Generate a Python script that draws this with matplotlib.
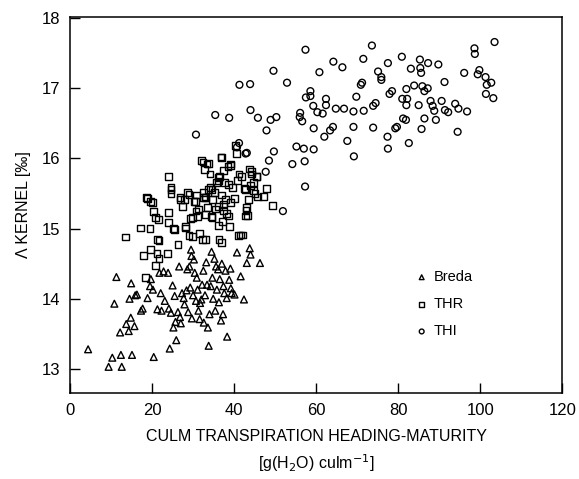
import matplotlib
matplotlib.use("Agg")
import matplotlib.pyplot as plt

plt.rcParams['font.family'] = ['Liberation Sans', 'DejaVu Sans']

# Breda (triangles)
breda_x = [4.4, 9.4, 10.3, 12.4, 12.6, 15.1, 20.4, 10.8, 11.3, 12.2, 13.7, 14.3, 14.8, 14.9,
           14.5, 15.7, 15.9, 16.3, 17.3, 17.7, 18.9, 19.5, 19.7, 20.2, 21.3, 21.8, 22.1, 22.3,
           22.8, 23.1, 23.9, 24.1, 24.3, 24.6, 25.0, 25.2, 25.5, 25.7, 25.9, 26.3, 26.6, 26.8,
           27.0, 27.3, 27.7, 27.9, 28.4, 28.6, 28.8, 29.1, 29.3, 29.5, 29.6, 29.7, 30.0, 30.2,
           30.4, 30.7, 30.9, 31.1, 31.3, 31.6, 31.7, 32.0, 32.2, 32.5, 32.6, 32.9, 33.2, 33.4,
           33.6, 33.8, 34.0, 34.3, 34.5, 34.7, 34.9, 35.2, 35.4, 35.6, 35.8, 36.1, 36.3, 36.5,
           36.8, 37.0, 37.3, 37.4, 37.6, 37.9, 38.2, 38.3, 38.8, 39.1, 39.2, 39.4, 40.1, 40.7,
           41.6, 42.4, 43.1, 43.8, 44.0, 46.3]
breda_y = [13.28, 13.03, 13.16, 13.20, 13.03, 13.20, 13.17, 13.93, 14.31, 13.52, 13.64, 13.54, 13.73, 14.22,
           14.00, 13.61, 14.05, 14.06, 13.83, 13.86, 14.01, 14.18, 14.28, 14.13, 13.85, 14.37, 14.08, 13.83,
           14.39, 13.97, 14.37, 13.86, 13.29, 13.80, 14.19, 13.59, 14.04, 13.67, 13.41, 13.81, 14.46, 13.74,
           13.65, 14.08, 14.01, 13.92, 14.12, 14.42, 13.81, 14.46, 14.16, 14.70, 14.61, 13.72, 14.05, 14.56,
           14.37, 13.97, 14.30, 14.13, 13.83, 13.71, 13.94, 13.99, 14.20, 14.40, 13.66, 14.05, 14.52, 14.20,
           13.59, 13.33, 13.78, 14.18, 14.67, 14.30, 14.00, 14.57, 13.83, 14.46, 14.13, 14.42, 13.95, 14.28,
           13.69, 14.50, 13.78, 14.18, 14.08, 14.40, 14.01, 13.46, 14.27, 14.43, 14.15, 14.08, 14.06, 14.66,
           14.32, 13.99, 14.51, 14.72, 14.63, 14.51]

# THR (squares)
thr_x = [13.5, 17.2, 19.5, 18.6, 19.6, 20.4, 20.9, 21.3, 17.9, 19.7, 21.2, 21.7, 18.4, 20.9,
         23.8, 24.1, 24.1, 24.1, 24.6, 24.6, 25.2, 26.3, 26.8, 27.5, 27.9, 28.1, 28.6, 29.3,
         29.8, 30.2, 30.7, 30.8, 31.1, 31.6, 32.0, 32.5, 32.7, 32.9, 33.1, 33.5, 33.8, 34.1,
         34.3, 34.5, 34.7, 35.2, 35.8, 36.1, 36.3, 36.5, 36.8, 37.0, 37.2, 37.4, 37.6, 37.9,
         38.2, 38.5, 38.8, 39.1, 39.2, 39.7, 40.1, 40.4, 40.6, 40.9, 41.2, 41.5, 42.0, 42.5,
         42.9, 43.2, 43.5, 43.8, 44.0, 44.3, 44.7, 45.1, 45.6, 45.8, 47.2, 47.9, 49.4,
         37.0, 32.4, 33.4, 39.1, 44.3, 41.9, 45.5, 36.2, 38.6, 42.7, 44.7, 34.6, 33.0, 37.4,
         43.1, 35.4, 41.1, 38.6, 33.0, 42.7, 36.2, 24.6, 18.9, 20.1, 21.6, 25.4, 28.2, 26.9,
         29.0, 30.6, 32.6, 33.8, 36.2, 31.4, 29.8, 34.6, 37.4, 29.0, 32.2, 37.0, 21.7]
thr_y = [14.88, 15.01, 15.00, 15.44, 15.39, 15.24, 15.16, 14.85, 14.62, 14.70, 14.65, 14.57, 14.30, 14.47,
         14.64, 15.23, 15.09, 15.74, 15.59, 15.50, 15.00, 14.77, 15.44, 15.32, 15.42, 15.03, 15.51, 15.15,
         14.89, 15.39, 15.25, 15.48, 15.17, 14.93, 15.97, 15.51, 15.84, 15.45, 14.85, 15.30, 15.93, 15.78,
         15.59, 15.17, 15.41, 15.51, 15.66, 15.31, 14.84, 15.74, 16.02, 15.48, 15.10, 15.83, 15.66, 15.41,
         15.22, 15.88, 15.03, 15.37, 15.92, 15.59, 15.43, 16.18, 16.07, 15.69, 15.78, 14.91, 14.91, 15.57,
         15.26, 15.19, 15.41, 15.85, 15.62, 15.78, 15.66, 15.50, 15.74, 15.45, 15.46, 15.57, 15.33,
         16.01, 15.95, 15.92, 15.90, 15.82, 15.74, 15.74, 15.73, 15.63, 15.56, 15.54, 15.56, 15.44, 15.35,
         15.30, 15.28, 14.90, 15.18, 15.20, 15.18, 15.05, 15.56, 15.43, 15.37, 15.13, 14.99, 15.01, 15.42,
         15.49, 15.39, 15.44, 15.56, 15.68, 15.28, 15.16, 15.16, 15.25, 14.90, 14.85, 14.80, 14.83]

# THI (circles)
thi_x = [30.7, 35.4, 38.8, 41.3, 43.9, 44.0, 45.8, 41.2, 43.1, 47.9, 48.9, 50.3, 49.6, 52.9,
         48.5, 49.7, 47.7, 54.2, 51.9, 55.2, 57.0, 57.2, 57.3, 57.4, 59.4, 56.1, 56.6, 56.0,
         57.5, 58.6, 58.6, 59.3, 59.4, 60.3, 60.8, 61.6, 62.0, 62.4, 62.4, 63.4, 64.1, 64.2,
         64.8, 66.4, 66.8, 67.6, 69.1, 69.1, 69.2, 69.8, 70.9, 71.2, 71.5, 71.6, 73.6, 73.9,
         73.9, 74.5, 75.1, 75.9, 75.9, 77.5, 77.4, 77.5, 77.9, 78.5, 79.3, 79.7, 80.9, 81.0,
         81.2, 81.9, 82.0, 82.2, 82.0, 82.6, 83.1, 83.9, 85.0, 85.3, 85.4, 85.6, 85.9, 85.7,
         86.4, 86.4, 87.3, 87.2, 87.9, 88.4, 88.8, 89.2, 89.8, 90.6, 91.3, 91.4, 92.2, 93.9,
         94.5, 94.7, 96.1, 96.8, 98.6, 98.7, 99.4, 99.8, 101.3, 101.6, 102.7, 101.4, 103.2, 103.5,
         40.7, 42.8]
thi_y = [16.34, 16.62, 16.58, 17.05, 17.06, 16.69, 16.58, 16.22, 16.08, 16.40, 16.55, 16.59, 17.25, 17.08,
         15.97, 16.10, 15.81, 15.92, 15.25, 16.17, 16.14, 15.96, 15.60, 17.55, 16.13, 16.65, 16.53, 16.59,
         16.87, 16.96, 16.89, 16.75, 16.43, 16.66, 17.23, 16.64, 16.31, 16.85, 16.76, 16.40, 16.45, 17.38,
         16.71, 17.30, 16.71, 16.25, 16.67, 16.45, 16.03, 16.88, 17.05, 17.08, 17.42, 16.68, 17.61, 16.44,
         16.75, 16.79, 17.24, 17.16, 17.12, 17.36, 16.31, 16.14, 16.92, 16.96, 16.43, 16.45, 17.45, 16.85,
         16.57, 16.55, 16.99, 16.85, 16.76, 16.22, 17.28, 17.04, 16.76, 17.41, 17.29, 17.22, 17.03, 16.42,
         16.57, 16.96, 17.36, 17.00, 16.82, 16.75, 16.68, 16.55, 17.34, 16.82, 17.09, 16.69, 16.66, 16.78,
         16.38, 16.71, 17.22, 16.67, 17.57, 17.49, 17.20, 17.26, 17.16, 17.05, 17.08, 16.92, 16.86, 17.66,
         16.16, 16.07]

fig = plt.figure(figsize=(5.79, 4.79), dpi=100)
ax = fig.add_axes([0.121, 0.180, 0.850, 0.785])

mk = dict(facecolors='none', edgecolors='black', linewidths=1.0, s=24)
ax.scatter(breda_x, breda_y, marker='^', label='Breda', **mk)
ax.scatter(thr_x, thr_y, marker='s', label='THR', **mk)
ax.scatter(thi_x, thi_y, marker='o', label='THI', **mk)

ax.set_xlim(0, 120)
ax.set_ylim(12.66, 18.02)
ax.set_xticks([0, 20, 40, 60, 80, 100, 120])
ax.set_yticks([13, 14, 15, 16, 17, 18])
ax.tick_params(direction='in', length=7, width=1, labelsize=12, pad=7)
for sp in ax.spines.values():
    sp.set_linewidth(1.1)

ax.set_xlabel("CULM TRANSPIRATION HEADING-MATURITY\n[g(H$_2$O) culm$^{-1}$]",
              fontsize=11.5, linespacing=1.5, labelpad=8)
ax.set_ylabel("Λ KERNEL [‰]", fontsize=11.5, labelpad=8)

ax.legend(frameon=False, loc='lower left', bbox_to_anchor=(0.67, 0.11),
          fontsize=10.5, handletextpad=0.2, labelspacing=0.9, markerscale=0.7,
          handlelength=1.2)

fig.savefig("out.png", dpi=100)
